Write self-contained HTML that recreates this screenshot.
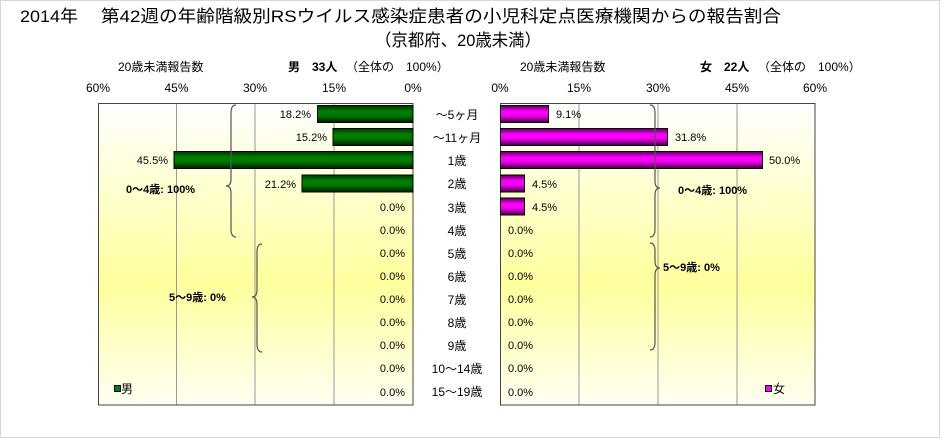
<!DOCTYPE html>
<html><head><meta charset="utf-8"><style>
body{margin:0;background:#fff}
svg{display:block;font-family:"Liberation Sans","Noto Sans CJK JP",sans-serif}
</style></head><body>
<svg width="944" height="443" viewBox="0 0 944 443" xmlns="http://www.w3.org/2000/svg">
<defs>
<linearGradient id="bg" x1="0" y1="0" x2="0" y2="1">
<stop offset="0" stop-color="#ffffff"/><stop offset="0.6" stop-color="#ffff9c"/><stop offset="1" stop-color="#fffff4"/></linearGradient>
<linearGradient id="gr" x1="0" y1="0" x2="0" y2="1">
<stop offset="0" stop-color="#003300"/><stop offset="0.35" stop-color="#008000"/><stop offset="0.6" stop-color="#007800"/><stop offset="1" stop-color="#002000"/></linearGradient>
<linearGradient id="mg" x1="0" y1="0" x2="0" y2="1">
<stop offset="0" stop-color="#550055"/><stop offset="0.35" stop-color="#ff00ff"/><stop offset="0.6" stop-color="#ee00ee"/><stop offset="1" stop-color="#440044"/></linearGradient>
</defs>
<rect x="0.5" y="0.5" width="939" height="437" fill="#fff" stroke="#d8d8d8"/>
<text x="20" y="22" font-size="17" textLength="58" lengthAdjust="spacingAndGlyphs">2014年</text>
<text x="101" y="22" font-size="17" textLength="680" lengthAdjust="spacingAndGlyphs">第42週の年齢階級別RSウイルス感染症患者の小児科定点医療機関からの報告割合</text>
<text x="375" y="46" font-size="17" textLength="166" lengthAdjust="spacingAndGlyphs">（京都府、20歳未満）</text>
<g font-size="12">
<text x="118" y="71">20歳未満報告数</text>
<text x="288" y="71" font-weight="bold">男　33人</text><text x="346" y="71">（全体の　100%）</text>
<text x="520" y="71">20歳未満報告数</text>
<text x="700" y="71" font-weight="bold">女　22人</text><text x="758" y="71">（全体の　100%）</text>
<g text-anchor="middle">
<text x="98" y="92">60%</text><text x="176.5" y="92">45%</text><text x="255" y="92">30%</text><text x="334" y="92">15%</text><text x="413" y="92">0%</text>
<text x="500" y="92">0%</text><text x="579" y="92">15%</text><text x="658" y="92">30%</text><text x="737" y="92">45%</text><text x="815" y="92">60%</text>
</g></g>
<rect x="98" y="103" width="315" height="302" fill="url(#bg)"/>
<rect x="500" y="103" width="315" height="302" fill="url(#bg)"/>
<g stroke="#999" stroke-width="1">
<line x1="176.5" y1="103" x2="176.5" y2="405"/><line x1="255" y1="103" x2="255" y2="405"/><line x1="334" y1="103" x2="334" y2="405"/>
<line x1="579" y1="103" x2="579" y2="405"/><line x1="658" y1="103" x2="658" y2="405"/><line x1="737" y1="103" x2="737" y2="405"/>
</g>
<rect x="98.5" y="103.5" width="314.5" height="301.5" fill="none" stroke="#444"/>
<rect x="500.5" y="103.5" width="314.5" height="301.5" fill="none" stroke="#444"/>
<g stroke="#000" stroke-width="1">
<rect x="317.5" y="105.5" width="95.5" height="17" fill="url(#gr)"/>
<rect x="333" y="128.5" width="80" height="17" fill="url(#gr)"/>
<rect x="174" y="151.5" width="239" height="17" fill="url(#gr)"/>
<rect x="302" y="175" width="111" height="17" fill="url(#gr)"/>
<rect x="500.5" y="105.5" width="48" height="17" fill="url(#mg)"/>
<rect x="500.5" y="128.5" width="167" height="17" fill="url(#mg)"/>
<rect x="500.5" y="151.5" width="262" height="17" fill="url(#mg)"/>
<rect x="500.5" y="175" width="24" height="17" fill="url(#mg)"/>
<rect x="500.5" y="198" width="24" height="17" fill="url(#mg)"/>
</g>
<g fill="none" stroke="#555" stroke-width="1.2">
<path d="M236 105 q-5 0 -5 8 v66 q0 7 -5 7 q5 0 5 7 v36 q0 8 5 8"/>
<path d="M262 244 q-5 0 -5 8 v38 q0 7 -5 7 q5 0 5 7 v40 q0 8 5 8"/>
<path d="M650 105 q5 0 5 8 v68 q0 7 5 7 q-5 0 -5 7 v34 q0 8 -5 8"/>
<path d="M650 243 q5 0 5 8 v10 q0 7 5 7 q-5 0 -5 7 v67 q0 8 -5 8"/>
</g>
<g font-size="11" font-weight="bold">
<text x="126" y="193">0～4歳: 100%</text>
<text x="169" y="301">5～9歳: 0%</text>
<text x="678" y="194">0～4歳: 100%</text>
<text x="663" y="271">5～9歳: 0%</text>
</g>
<g font-size="11" text-anchor="end">
<text x="311" y="118">18.2%</text><text x="327" y="141">15.2%</text><text x="168" y="164">45.5%</text><text x="296" y="188">21.2%</text>
<text x="405" y="211">0.0%</text><text x="405" y="234">0.0%</text><text x="405" y="257">0.0%</text><text x="405" y="280">0.0%</text><text x="405" y="303">0.0%</text><text x="405" y="326">0.0%</text><text x="405" y="349">0.0%</text><text x="405" y="372">0.0%</text><text x="405" y="396">0.0%</text>
</g>
<g font-size="11">
<text x="556" y="118">9.1%</text><text x="675" y="141">31.8%</text><text x="769" y="164">50.0%</text><text x="532" y="188">4.5%</text><text x="532" y="211">4.5%</text>
<text x="508" y="234">0.0%</text><text x="508" y="257">0.0%</text><text x="508" y="280">0.0%</text><text x="508" y="303">0.0%</text><text x="508" y="326">0.0%</text><text x="508" y="349">0.0%</text><text x="508" y="372">0.0%</text><text x="508" y="396">0.0%</text>
</g>
<g font-size="12" text-anchor="middle">
<text x="457" y="119">～5ヶ月</text><text x="457" y="142">～11ヶ月</text><text x="457" y="165">1歳</text><text x="457" y="188">2歳</text><text x="457" y="212">3歳</text><text x="457" y="235">4歳</text><text x="457" y="258">5歳</text><text x="457" y="281">6歳</text><text x="457" y="304">7歳</text><text x="457" y="327">8歳</text><text x="457" y="350">9歳</text><text x="457" y="373">10～14歳</text><text x="457" y="396">15～19歳</text>
</g>
<rect x="114.5" y="385.5" width="6" height="6" fill="#008000" stroke="#000"/>
<text x="121" y="393" font-size="12">男</text>
<rect x="765.5" y="385.5" width="6" height="6" fill="#ff00ff" stroke="#000"/>
<text x="773" y="393" font-size="12">女</text>
</svg>
</body></html>
